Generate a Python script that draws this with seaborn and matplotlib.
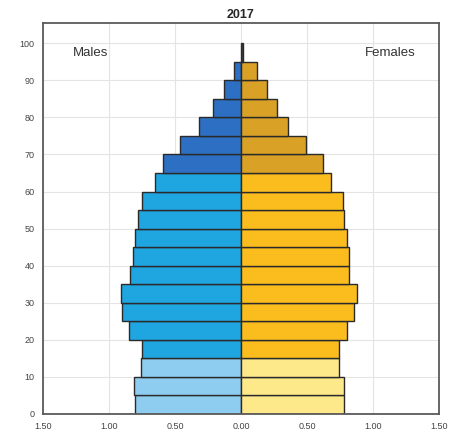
import numpy as np
import pandas as pd
import matplotlib
matplotlib.use("Agg")
import matplotlib.pyplot as plt
import seaborn as sns

# age groups (lower bound of each 5-year band)
age_lo = list(range(0, 100, 5))
# share of population (%)
males = [0.80, 0.81, 0.76, 0.75, 0.85, 0.90, 0.91, 0.84, 0.815, 0.80,
         0.78, 0.75, 0.65, 0.59, 0.46, 0.32, 0.21, 0.13, 0.055, 0.02]
females = [0.78, 0.78, 0.74, 0.74, 0.80, 0.86, 0.88, 0.82, 0.82, 0.80,
           0.78, 0.77, 0.68, 0.62, 0.49, 0.36, 0.27, 0.20, 0.12, 0.045]


def band(age, sex):
    if age >= 95:
        return "top"
    if age < 15:
        return sex + "_young"
    if age < 65:
        return sex + "_adult"
    return sex + "_old"


palette = {
    "m_young": "#8fcdf0", "m_adult": "#1fa5df", "m_old": "#2d6fc2",
    "f_young": "#fde88a", "f_adult": "#fbbd1e", "f_old": "#d9a126",
    "top": "#3d3d3d",
}

rows = []
for a, m, f in zip(age_lo, males, females):
    rows.append({"age": a + 2.5, "value": -m, "band": band(a, "m")})
    rows.append({"age": a + 2.5, "value": f, "band": band(a, "f")})
df = pd.DataFrame(rows)

sns.set_style("white")
plt.rcParams["font.family"] = ["Liberation Sans", "DejaVu Sans"]

fig = plt.figure(figsize=(4.52, 4.44), dpi=100)
ax = fig.add_axes([0.095, 0.0676, 0.876, 0.880])

sns.barplot(data=df, x="value", y="age", hue="band", palette=palette,
            orient="y", native_scale=True, dodge=False, width=1,
            saturation=1, errorbar=None, edgecolor="#2a2a2a", linewidth=1.0,
            legend=False, ax=ax)

ax.set_xlim(-1.5, 1.5)
ax.set_ylim(0, 105.4)
ax.set_xticks(np.arange(-1.5, 1.51, 0.5))
ax.set_xticklabels([f"{abs(v):.2f}" for v in np.arange(-1.5, 1.51, 0.5)])
ax.set_yticks(range(0, 101, 10))
ax.set_xlabel("")
ax.set_ylabel("")
ax.grid(True, color="#e4e4e4", linewidth=0.8)
ax.set_axisbelow(True)
ax.tick_params(axis="both", labelsize=6.5, colors="#444444", direction="in",
               length=3, width=0.8, pad=6)
for s in ax.spines.values():
    s.set_color("#5a5a5a")
    s.set_linewidth(1.3)
    s.set_visible(True)

ax.text(-1.14, 97.3, "Males", ha="center", va="center", fontsize=9.5, color="#333333")
ax.text(1.13, 97.3, "Females", ha="center", va="center", fontsize=9.5, color="#333333")
ax.set_title("2017", fontsize=9, fontweight="bold", pad=4)

fig.savefig("out.png", dpi=100)
